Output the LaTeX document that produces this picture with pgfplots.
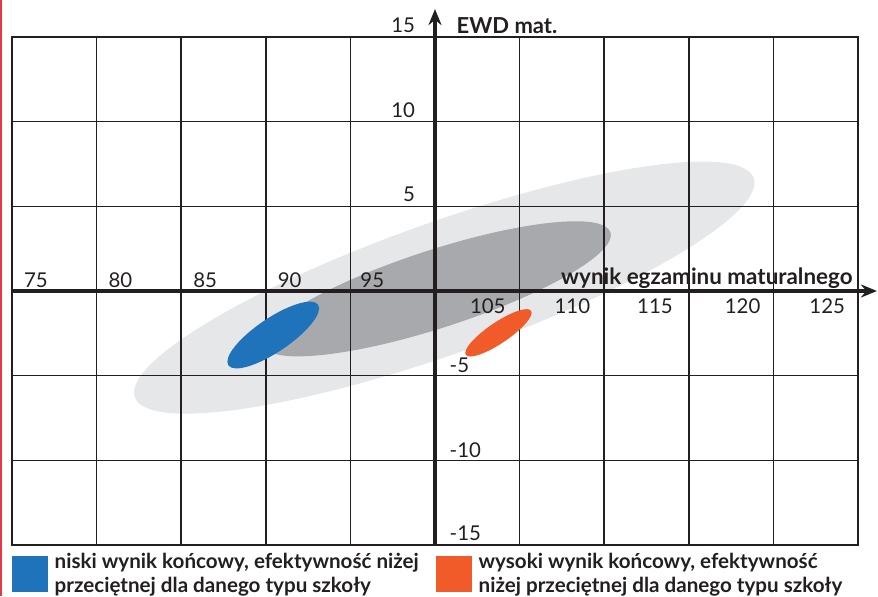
\documentclass[border=0pt]{standalone}
\usepackage{pgfplots}
\pgfplotsset{compat=1.18}
\usepackage{fontspec}
\setmainfont{Lato}
\usetikzlibrary{arrows.meta}
\definecolor{lgray}{HTML}{E6E7E8}
\definecolor{dgray}{HTML}{A7A9AC}
\definecolor{eblue}{HTML}{1F73BA}
\definecolor{eorange}{HTML}{F15A29}
\definecolor{ink}{HTML}{231F20}
\definecolor{pagered}{HTML}{E63946}
\begin{document}
\begin{tikzpicture}[font=\fontsize{10.2}{12}\selectfont, text=ink]
\begin{axis}[name=ax, set layers, scale only axis, width=423pt, height=254pt,
  xmin=75, xmax=125, ymin=-15, ymax=15,
  xtick={75,80,...,125}, ytick={-15,-10,...,15},
  xticklabels={}, yticklabels={}, major tick length=0pt,
  grid=major, major grid style={ink, line width=0.8pt},
  axis line style={ink, line width=0.8pt}, clip=false,
  every node/.style={inner sep=0pt}]
\begin{pgfonlayer}{axis background}
\fill[lgray] (axis cs:100.55,0.2) ellipse [x radius=19.4, y radius=3.9, rotate=19.5];
\fill[dgray] (axis cs:100.1,0.13) ellipse [x radius=10.8, y radius=2.3, rotate=18];
\end{pgfonlayer}
\fill[eblue] (axis cs:90.44,-2.6) ellipse [x radius=3.2, y radius=1.0, rotate=34];
\fill[eorange] (axis cs:103.75,-2.47) ellipse [x radius=2.33, y radius=0.62, rotate=34];
\draw[ink, line width=1.6pt, -{Stealth[length=8pt,width=6.5pt]}] (axis cs:100,-15) -- (axis cs:100,16.65);
\draw[ink, line width=1.6pt, -{Stealth[length=8pt,width=6.5pt]}] (axis cs:75,0) -- (axis cs:126.12,0);
% x tick labels
\node[anchor=base west, xshift=2.5pt, yshift=2pt] at (axis cs:75,0) {75};
\node[anchor=base west, xshift=2.5pt, yshift=2pt] at (axis cs:80,0) {80};
\node[anchor=base west, xshift=2.5pt, yshift=2pt] at (axis cs:85,0) {85};
\node[anchor=base west, xshift=2.5pt, yshift=2pt] at (axis cs:90,0) {90};
\node[anchor=base west, xshift=1.5pt, yshift=2pt] at (axis cs:95,0) {95};
\node[anchor=base east, xshift=-3.5pt, yshift=-11.1pt] at (axis cs:105,0) {105};
\node[anchor=base east, xshift=-3.5pt, yshift=-11.1pt] at (axis cs:110,0) {110};
\node[anchor=base east, xshift=-4.5pt, yshift=-11.1pt] at (axis cs:115,0) {115};
\node[anchor=base east, xshift=-3pt, yshift=-11.1pt] at (axis cs:120,0) {120};
\node[anchor=base east, xshift=-3pt, yshift=-11.1pt] at (axis cs:125,0) {125};
% y tick labels
\node[anchor=base east, xshift=-6.5pt, yshift=2.2pt] at (axis cs:100,15) {15};
\node[anchor=base east, xshift=-6.5pt, yshift=2.2pt] at (axis cs:100,10) {10};
\node[anchor=base east, xshift=-6.5pt, yshift=2.2pt] at (axis cs:100,5) {5};
\node[anchor=base west, xshift=3.8pt, yshift=1.5pt] at (axis cs:100,-5) {-5};
\node[anchor=base west, xshift=3.8pt, yshift=1.5pt] at (axis cs:100,-10) {-10};
\node[anchor=base west, xshift=3.8pt, yshift=2.5pt] at (axis cs:100,-15) {-15};
% axis titles
\node[anchor=base west, xshift=7.3pt, yshift=2pt, font=\fontsize{11}{12}\selectfont\bfseries] at (axis cs:100,15) {EWD mat.};
\node[anchor=base east, xshift=0.8pt, yshift=3.5pt, font=\fontsize{11.2}{12}\selectfont\bfseries] at (axis cs:125,0) {wynik egzaminu maturalnego};
\end{axis}
% legend
\fill[eblue] ([shift={(0pt,-5.35pt)}]ax.south west) rectangle ([shift={(18pt,-23.35pt)}]ax.south west);
\fill[eorange] ([shift={(212pt,-5.35pt)}]ax.south west) rectangle ([shift={(229.85pt,-23.35pt)}]ax.south west);
\begin{scope}[every node/.style={inner sep=0pt, anchor=base west, font=\fontsize{10.3}{12}\selectfont\bfseries}]
\node at ([shift={(21.15pt,-11.5pt)}]ax.south west) {niski wynik końcowy, efektywność niżej};
\node at ([shift={(21.15pt,-23.5pt)}]ax.south west) {przeciętnej dla danego typu szkoły};
\node at ([shift={(233.15pt,-11.5pt)}]ax.south west) {wysoki wynik końcowy, efektywność};
\node at ([shift={(233.15pt,-23.5pt)}]ax.south west) {niżej przeciętnej dla danego typu szkoły};
\end{scope}
\draw[pagered, line width=0.75pt] ([shift={(-5.5pt,-25.5pt)}]ax.south west) -- ([shift={(-5.5pt,272.5pt)}]ax.south west);
\pgfresetboundingbox
\useasboundingbox ([shift={(-6pt,-25.5pt)}]ax.south west) rectangle ([shift={(433pt,272.5pt)}]ax.south west);
\end{tikzpicture}
\end{document}
